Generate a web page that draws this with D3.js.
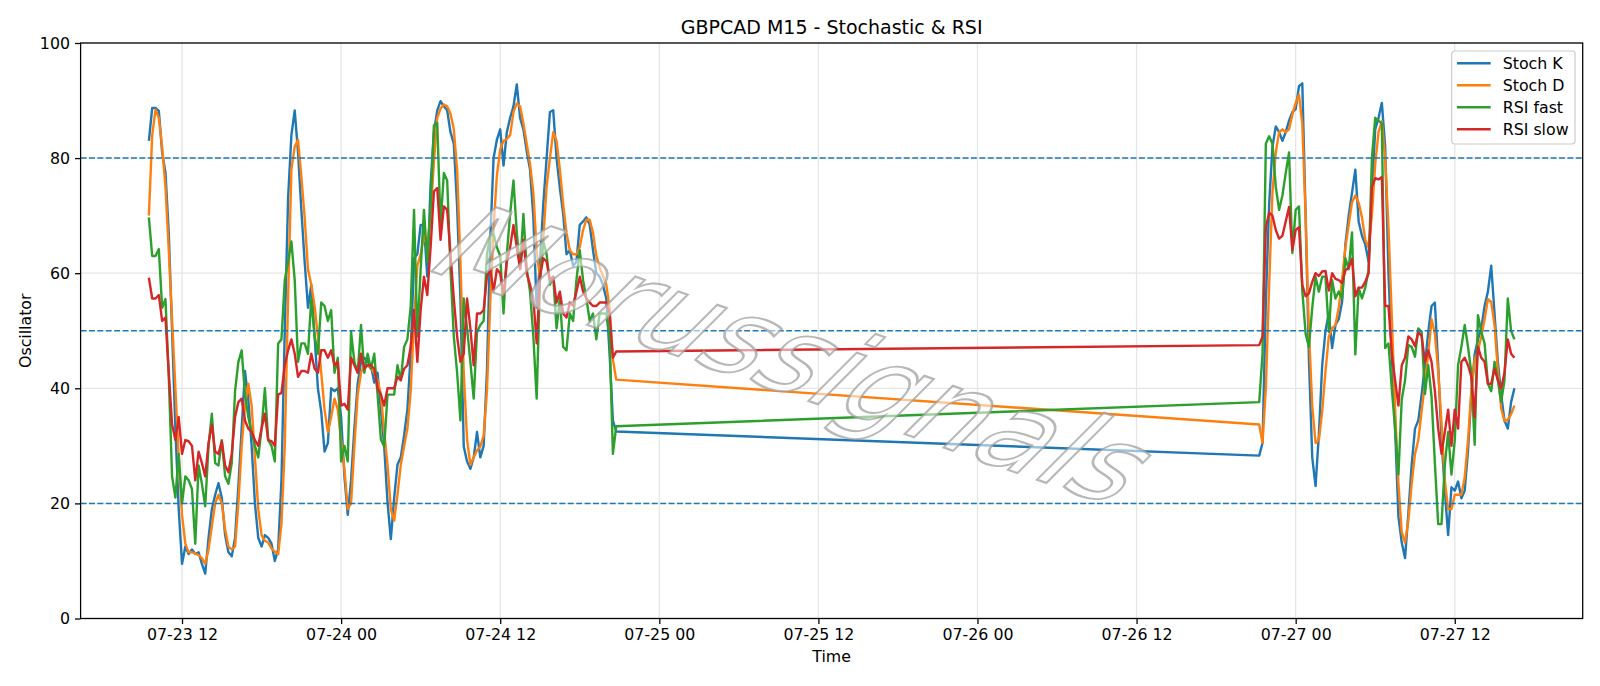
<!DOCTYPE html>
<html>
<head>
<meta charset="utf-8">
<script src="https://cdn.jsdelivr.net/npm/d3@7"></script>
<style>
body { margin: 0; background: #fff; }
text { font-family: "DejaVu Sans", sans-serif; }
</style>
</head>
<body>
<div id="chart"></div>
<script>
var svgWidth = 1600;
var svgHeight = 686;

var margin =
{
    top: 43,
    right: 17.3,
    bottom: 67.5,
    left: 80.6
};

var width = svgWidth - margin.left - margin.right;
var height = svgHeight - margin.top - margin.bottom;

// two trading sessions of M15 bars (Thu-Fri, then Sun-Mon)
var session1Start = "2020-07-23T09:30:00Z";
var session2Start = "2020-07-26T21:15:00Z";
var barMinutes = 15;

var stochK1 = [83, 88.7, 88.7, 88.2, 81, 77.5, 67, 50, 33, 19, 9.5, 12.5, 11.2, 12, 11.2, 11.5, 9.5, 7.8, 14, 19,
    21.5, 23.5, 21, 14.5, 11.5, 10.8, 14, 23, 33, 43, 38, 30, 20, 14, 12.5, 14.5, 14, 13, 10, 12,
    24, 50, 73, 84, 88.3, 81, 71, 62, 54, 58, 49, 40, 36, 29, 30.5, 40, 39.5, 40, 35, 24.7,
    18, 24, 33, 40.8, 44.6, 45.3, 44.6, 44, 41, 42.7, 36.3, 29.9, 20.2, 13.8, 20.9, 26.7, 28, 31.8, 36.3, 46,
    62.6, 63.3, 68.4, 68.4, 59.4, 75.5, 84.5, 88.3, 89.9, 89, 88.3, 84.5, 82.5, 71.6, 55.6, 29.9, 27.3, 26, 28, 32.4,
    28, 30, 43, 66, 80, 83.2, 85, 78.7, 84.5, 87, 89, 92.8, 87, 85, 81.2, 78, 69.7, 54, 62, 72,
    80, 88, 88.3, 80, 74.8, 70.3, 63.3, 64, 61.3, 62, 68.4, 69, 69.7, 68.4, 64, 60, 59.4, 58, 55.6, 46,
    34.4, 32.5];
var stochD1 = [70, 84, 88.4, 87, 82, 75, 64, 52, 40, 28, 18, 13, 11.5, 11.5, 11.3, 11, 10.5, 9.5, 12, 16,
    20, 21.5, 20, 15.5, 12.5, 12, 12.5, 20, 30, 37, 40.8, 37, 28, 19, 14.5, 13.5, 13.2, 12.2, 11.6, 11.2,
    16.4, 30, 55.6, 78, 82, 83.2, 76.8, 69.7, 60.7, 58, 54.3, 49, 42.7, 36.3, 32.4, 35, 38.2, 36.3, 31, 26,
    19, 20, 30, 38.9, 42.7, 44, 44, 43.4, 42.7, 41.4, 38.9, 32.4, 26.7, 19, 17, 21.5, 26.7, 29.9, 33, 39.5,
    51.7, 61.3, 63.3, 66.5, 64.5, 70.3, 79.3, 87, 88.6, 89.3, 89, 87.7, 85, 78, 62, 42.7, 31.1, 26.7, 28, 29.2,
    29.9, 31.8, 39.5, 55, 68, 77, 81.5, 83, 83.3, 84, 88, 89.5, 89, 86, 82.5, 79, 74, 64, 59, 66,
    75, 80, 84.5, 83, 78, 72, 67, 64, 63.3, 63.3, 64.5, 67.5, 69.3, 69.3, 67, 63, 61, 59.5, 58, 54,
    45, 41.5];
var rsiFast1 = [69.7, 63, 63, 64.2, 54, 55.5, 42, 24.7, 21, 28.6, 20, 24.7, 24, 22.5, 13, 26.6, 23.4, 19.5, 30, 35.6,
    27, 26.6, 31, 24.7, 23.4, 27, 39.5, 44.6, 46.6, 38.9, 35, 32.4, 30, 28, 33, 40, 31, 30, 27.3, 47.8,
    48.5, 58.8, 62, 65.5, 58.8, 44.6, 47.8, 47.8, 46, 55.6, 49, 46, 54.9, 54.3, 51.7, 53.6, 42.7, 45.3, 27.3, 30,
    27.3, 49.8, 44.6, 42.7, 51, 42.7, 46, 43.4, 46, 38.9, 31.1, 29.9, 38.9, 38.9, 38.9, 44, 41.4, 47.2, 48.5, 54.3,
    71, 49, 60.7, 71, 62, 71.6, 85.7, 86.1, 68.4, 77.4, 76.1, 60.7, 49, 42.7, 34.4, 55.6, 50.4, 44.6, 38.2, 49.8,
    51, 51.7, 63.3, 66.5, 66.8, 64.5, 63, 53, 63.3, 70.3, 76.1, 67.1, 60.7, 70.3, 60.7, 56.8, 49, 38.2, 58.8, 65.5,
    63.3, 58, 59.4, 50.4, 55.6, 47.2, 46.6, 53, 51.7, 58.8, 64, 58.8, 55.6, 51.7, 53, 48.5, 53, 53, 53, 49,
    28.6, 33.4];
var rsiSlow1 = [59.2, 55.6, 55.6, 56.2, 51.7, 52.3, 42.7, 33.7, 31, 35, 28.6, 31, 30.8, 30, 24, 29, 27, 24.7, 30.5, 33.7,
    29, 28.6, 30.8, 26.6, 25.4, 28.6, 35, 37.6, 38.2, 34.4, 33, 32.4, 31, 30, 33, 35.6, 31, 30.8, 30, 38.9,
    39.2, 44, 46.6, 48.5, 46, 42, 43, 43, 42.7, 46, 43.4, 42.7, 46.6, 46.6, 45.3, 46.6, 44, 44.6, 37, 37.3,
    36.3, 45.3, 44, 42.7, 46, 43.4, 44, 44, 43.4, 40, 38.9, 37, 40, 40, 40, 42, 41.4, 43.4, 44, 47.2,
    53.6, 44.6, 53.6, 59.4, 56.2, 64.5, 74.2, 74.8, 65.8, 71.6, 71, 63.3, 55.6, 49, 44.6, 46, 55.6, 50.4, 44, 53,
    53, 53.6, 59.4, 60.7, 56.8, 60.7, 60, 56.2, 62, 64.5, 68.4, 64.5, 60.7, 65.8, 60, 58, 55.6, 47.8, 59.4, 62.6,
    62, 58.8, 59.4, 54.9, 56.8, 53, 52.3, 54.9, 54.3, 56.8, 59.4, 56.8, 55.6, 54.9, 54.3, 54.3, 54.9, 54.9, 54.9, 53,
    45.3, 46.4];

var stochK2 = [28.3, 30.5, 55, 72, 82, 85.5, 84.5, 83, 84.5, 86.5, 88, 88.5, 92.5, 93, 70, 45, 28, 23, 32, 44,
    50, 53, 47, 51, 52, 55, 65, 70, 74, 78, 69, 66.5, 65, 62, 74, 85, 87, 89.6, 82, 60,
    46, 33, 17.7, 13.2, 10.5, 18.3, 26.7, 33, 34.4, 38.9, 44, 49.8, 54.3, 54.9, 44, 31.1, 22.2, 14.5, 22.8, 22.2,
    23.8, 20.9, 22.2, 29.2, 38.9, 45.9, 48.5, 50.4, 54.3, 56.8, 61.3, 53, 44.6, 38.9, 34.4, 33, 37.6, 40];
var stochD2 = [33.7, 30.5, 40, 58, 74, 81, 84.5, 85, 84.5, 85, 87.5, 89.6, 91, 86, 70, 50, 37, 30.5, 31, 36,
    43, 49, 50.4, 51, 54, 58.8, 64.5, 68.4, 72.3, 73.5, 72.3, 69.7, 65.8, 64.5, 70, 79, 84.5, 86.4, 80, 68,
    52.5, 36.5, 23.5, 15, 13.2, 17, 23.4, 28.6, 31, 36, 41, 46, 52, 49.5, 43, 34, 24, 19, 19, 21.5,
    21.5, 21.5, 24.5, 31, 39.5, 45, 46.5, 49, 52, 55.5, 55, 51, 43, 36.5, 34.3, 34.5, 35.5, 37];
var rsiFast2 = [37.6, 46, 82.5, 83.8, 82.5, 75, 71, 73.5, 77.4, 81, 63.5, 71, 71.6, 57, 49.5, 47.2, 54, 59.4, 56.8, 59.4,
    59.4, 49.8, 58.8, 55.6, 56.8, 55.6, 62.6, 60.7, 67.1, 45.9, 57.5, 55.6, 57.5, 60.5, 80, 87, 86.5, 86, 47, 47.8,
    40, 33, 25, 38, 41.4, 47.5, 47.2, 45.5, 50.4, 49.8, 39, 44, 38.5, 27, 16.4, 16.4, 26.7, 32.4, 25, 31,
    44, 47.2, 51, 47.2, 42.7, 30.2, 52.7, 49.8, 47.8, 40.8, 39.5, 44.6, 41.4, 37.6, 41.4, 55.6, 50, 48.5];
var rsiSlow2 = [47.5, 49, 68, 70.5, 70, 67.5, 66, 66.5, 69, 71.5, 64, 67.5, 68, 58, 56, 56.5, 58.5, 60, 59.5, 60.3,
    60.4, 57, 60, 59, 58.8, 58.3, 60.5, 61, 62.5, 56, 57.5, 57.5, 58.5, 60, 75, 76.5, 76.3, 76.7, 54.3, 54.3,
    46, 41.4, 37, 44, 45.3, 49, 48.5, 47.3, 49.8, 49.1, 44.6, 46.6, 44.6, 39.5, 33, 28.6, 32.4, 36.3, 30, 36.3,
    33, 44.6, 45.3, 44, 42, 35, 47.2, 45.3, 44.6, 40.8, 40.8, 43.4, 41.4, 40, 42.7, 48.5, 46, 45.3];

var levels = [20, 50, 80];
var yTicks = [0, 20, 40, 60, 80, 100];
var xTickLabels = ["2020-07-23T12:00:00Z", "2020-07-24T00:00:00Z", "2020-07-24T12:00:00Z", "2020-07-25T00:00:00Z",
    "2020-07-25T12:00:00Z", "2020-07-26T00:00:00Z", "2020-07-26T12:00:00Z", "2020-07-27T00:00:00Z", "2020-07-27T12:00:00Z"];

var seriesNames = ["Stoch K", "Stoch D", "RSI fast", "RSI slow"];
var seriesColors = ["#1f77b4", "#ff7f0e", "#2ca02c", "#d62728"];

function sessionTimes(start, n)
{
    var t0 = new Date(start).getTime();
    return d3.range(n).map(i => new Date(t0 + i * barMinutes * 60000));
}

var times = sessionTimes(session1Start, stochK1.length)
    .concat(sessionTimes(session2Start, stochK2.length));

var seriesValues = [
    stochK1.concat(stochK2),
    stochD1.concat(stochD2),
    rsiFast1.concat(rsiFast2),
    rsiSlow1.concat(rsiSlow2)
];

var svg = d3
    .select("#chart")
    .append("svg")
    .attr("width", svgWidth)
    .attr("height", svgHeight);

var chartGroup = svg
    .append("g")
    .attr("transform", `translate(${margin.left}, ${margin.top})`);

// matplotlib style 5% padding on the time axis
var tExtent = d3.extent(times);
var pad = (tExtent[1] - tExtent[0]) * 0.05;

var xScale = d3.scaleUtc()
    .domain([new Date(tExtent[0].getTime() - pad), new Date(tExtent[1].getTime() + pad)])
    .range([0, width]);

var yScale = d3.scaleLinear()
    .domain([0, 100])
    .range([height, 0]);

var xTicks = xTickLabels.map(s => new Date(s));

// grid
chartGroup.append("g")
    .selectAll("line")
    .data(xTicks)
    .enter()
    .append("line")
    .attr("x1", d => xScale(d))
    .attr("x2", d => xScale(d))
    .attr("y1", 0)
    .attr("y2", height)
    .attr("stroke", "#e6e6e6")
    .attr("stroke-width", 1.3);

chartGroup.append("g")
    .selectAll("line")
    .data(yTicks)
    .enter()
    .append("line")
    .attr("x1", 0)
    .attr("x2", width)
    .attr("y1", d => yScale(d))
    .attr("y2", d => yScale(d))
    .attr("stroke", "#e6e6e6")
    .attr("stroke-width", 1.3);

// series
var line = d3.line()
    .x((d, i) => xScale(times[i]))
    .y(d => yScale(d));

chartGroup.append("g")
    .selectAll("path")
    .data(seriesValues)
    .enter()
    .append("path")
    .attr("d", d => line(d))
    .attr("fill", "none")
    .attr("stroke", (d, i) => seriesColors[i])
    .attr("stroke-width", 2.4)
    .attr("stroke-linejoin", "round")
    .attr("stroke-linecap", "butt");

// 20 / 50 / 80 levels
chartGroup.append("g")
    .selectAll("line")
    .data(levels)
    .enter()
    .append("line")
    .attr("x1", 0)
    .attr("x2", width)
    .attr("y1", d => yScale(d))
    .attr("y2", d => yScale(d))
    .attr("stroke", "#1f77b4")
    .attr("stroke-width", 1.5)
    .attr("stroke-dasharray", "5.9,2.5");

// watermark
svg.append("text")
    .attr("transform", "translate(797, 356) rotate(19) skewX(-26)")
    .attr("text-anchor", "middle")
    .attr("dominant-baseline", "central")
    .attr("font-size", 112)
    .attr("fill", "#ffffff")
    .attr("fill-opacity", 0.55)
    .attr("stroke", "#a0a0a0")
    .attr("stroke-opacity", 0.75)
    .attr("stroke-width", 2.2)
    .text("Morussignals");

// axes
var bottomAxis = d3.axisBottom(xScale)
    .tickValues(xTicks)
    .tickFormat(d3.utcFormat("%m-%d %H"))
    .tickSizeOuter(0)
    .tickSize(5.6)
    .tickPadding(5);

var leftAxis = d3.axisLeft(yScale)
    .tickValues(yTicks)
    .tickSizeOuter(0)
    .tickSize(5.6)
    .tickPadding(5);

var xAxis = chartGroup.append("g")
    .attr("transform", `translate(0, ${height})`)
    .call(bottomAxis);

var yAxis = chartGroup.append("g")
    .call(leftAxis);

[xAxis, yAxis].forEach(ax =>
{
    ax.select(".domain").remove();
    ax.selectAll("line").attr("stroke", "#000").attr("stroke-width", 1.27);
    ax.selectAll("text")
        .attr("fill", "#000")
        .style("font-size", "15.8px")
        .style("font-family", "'DejaVu Sans', sans-serif");
});

chartGroup.append("rect")
    .attr("width", width)
    .attr("height", height)
    .attr("fill", "none")
    .attr("stroke", "#000")
    .attr("stroke-width", 1.27);

// titles
svg.append("text")
    .attr("x", margin.left + width / 2)
    .attr("y", 33.5)
    .attr("text-anchor", "middle")
    .attr("font-size", 19)
    .text("GBPCAD M15 - Stochastic & RSI");

svg.append("text")
    .attr("x", margin.left + width / 2)
    .attr("y", 662)
    .attr("text-anchor", "middle")
    .attr("font-size", 15.8)
    .text("Time");

svg.append("text")
    .attr("transform", `translate(30.5, ${margin.top + height / 2}) rotate(-90)`)
    .attr("text-anchor", "middle")
    .attr("font-size", 15.8)
    .text("Oscillator");

// legend
var legend = svg.append("g")
    .attr("transform", "translate(1451.7, 51)");

legend.append("rect")
    .attr("width", 123.3)
    .attr("height", 93)
    .attr("rx", 3)
    .attr("fill", "#fff")
    .attr("fill-opacity", 0.8)
    .attr("stroke", "#cccccc")
    .attr("stroke-width", 1.2);

var legendRows = legend.selectAll(".row")
    .data(seriesNames)
    .enter()
    .append("g")
    .attr("class", "row")
    .attr("transform", (d, i) => `translate(0, ${12.3 + i * 22})`);

legendRows.append("line")
    .attr("x1", 5.3)
    .attr("x2", 39)
    .attr("stroke", (d, i) => seriesColors[i])
    .attr("stroke-width", 2.4);

legendRows.append("text")
    .attr("x", 51)
    .attr("dy", "0.36em")
    .attr("font-size", 15.8)
    .text(d => d);
</script>
</body>
</html>
